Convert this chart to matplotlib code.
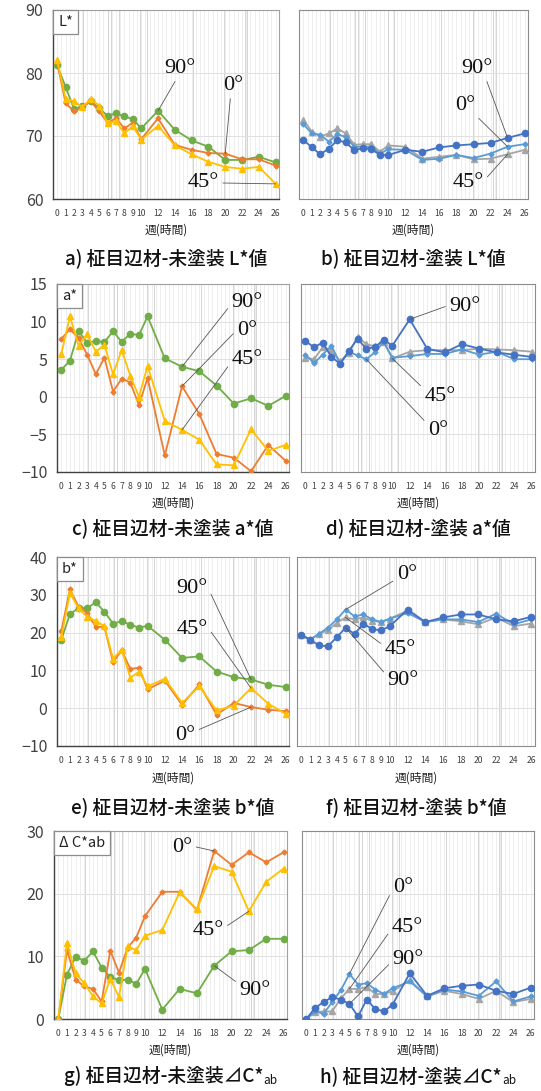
import numpy as np
import matplotlib
matplotlib.use("Agg")
import matplotlib.pyplot as plt
from matplotlib.offsetbox import AnchoredText
from matplotlib.font_manager import FontProperties, findfont

plt.rcParams['font.family'] = ['Noto Sans CJK JP', 'DejaVu Sans']

W, H = 541, 1091

weeks = [0, 1, 2, 3, 4, 5, 6, 7, 8, 9, 10, 12, 14, 16, 18, 20, 22, 24, 26]
tick_labels = [str(w) for w in weeks]

# L* values
L_raw_0 = [81.6, 75.2, 73.9, 74.6, 75.5, 73.9, 72.1, 72.8, 71.2, 72.1, 69.5, 72.8, 68.6, 67.8, 67.3, 67.2, 66.3, 66.3, 65.3]
L_raw_45 = [82.0, 75.9, 75.5, 74.6, 75.9, 74.8, 72.0, 72.4, 70.4, 71.6, 69.4, 71.6, 68.5, 67.1, 65.9, 65.1, 64.8, 65.1, 62.4]
L_raw_90 = [81.2, 77.8, 74.3, 74.7, 75.5, 74.4, 73.2, 73.6, 73.1, 72.7, 71.2, 74.0, 71.0, 69.3, 68.3, 66.2, 66.2, 66.7, 65.8]
L_coat_0 = [71.9, 70.4, 70.2, 69.1, 70.3, 69.8, 68.3, 68.3, 68.3, 67.2, 67.9, 67.8, 66.2, 66.4, 67.0, 66.5, 67.2, 68.3, 68.7]
L_coat_45 = [72.6, 70.7, 69.9, 70.4, 71.2, 70.4, 68.6, 68.7, 68.7, 67.5, 68.5, 68.3, 66.4, 66.7, 67.0, 66.3, 66.4, 67.1, 67.8]
L_coat_90 = [69.4, 68.2, 67.1, 68.0, 69.3, 69.0, 67.7, 68.1, 67.9, 67.0, 67.0, 67.8, 67.5, 68.2, 68.5, 68.7, 68.9, 69.7, 70.4]

# a* values
a_raw_0 = [7.7, 9.0, 7.8, 5.6, 3.0, 5.2, 0.7, 2.4, 1.9, -1.1, 2.5, -7.8, 1.4, -2.3, -7.6, -8.1, -9.9, -6.4, -8.5]
a_raw_45 = [5.7, 10.7, 6.8, 8.3, 6.0, 6.9, 3.0, 6.2, 2.8, 0.0, 4.1, -3.2, -4.4, -5.7, -9.0, -9.1, -4.3, -7.2, -6.4]
a_raw_90 = [3.6, 4.8, 8.7, 7.2, 7.4, 7.3, 8.7, 7.3, 8.4, 8.2, 10.7, 5.1, 4.0, 3.4, 1.5, -0.9, -0.2, -1.2, 0.1]
a_coat_0 = [5.6, 4.5, 5.6, 6.8, 4.4, 6.0, 5.5, 5.0, 5.9, 7.3, 5.2, 5.4, 5.7, 5.7, 6.3, 5.6, 6.0, 5.0, 5.0]
a_coat_45 = [5.2, 5.0, 6.6, 6.2, 4.7, 5.8, 8.0, 7.0, 6.7, 7.3, 5.1, 6.0, 6.2, 6.2, 6.2, 6.4, 6.3, 6.2, 6.0]
a_coat_90 = [7.4, 6.6, 7.2, 5.3, 4.4, 6.1, 7.7, 6.4, 6.6, 7.6, 6.8, 10.3, 6.4, 5.9, 7.0, 6.4, 5.9, 5.6, 5.3]

# b* values
b_raw_0 = [20.4, 31.5, 26.8, 25.2, 21.5, 21.5, 12.2, 15.3, 10.4, 10.7, 5.0, 7.3, 0.9, 6.3, -1.7, 1.4, 0.3, -0.4, -0.8]
b_raw_45 = [18.8, 30.5, 26.4, 24.2, 23.1, 21.7, 13.1, 15.5, 8.1, 9.6, 5.8, 7.8, 1.4, 5.8, -0.6, 0.7, 5.3, 1.2, -1.5]
b_raw_90 = [18.1, 24.9, 26.5, 26.5, 28.0, 25.5, 22.4, 23.0, 22.1, 21.3, 21.8, 18.1, 13.3, 13.7, 9.7, 8.2, 7.6, 6.2, 5.6]
b_coat_0 = [19.3, 18.2, 19.7, 21.3, 23.5, 26.1, 24.3, 24.8, 23.5, 22.8, 23.7, 25.2, 22.8, 23.5, 23.5, 22.8, 25.0, 22.2, 23.5]
b_coat_45 = [19.3, 18.1, 19.7, 20.6, 22.6, 24.0, 23.5, 24.0, 23.1, 22.8, 23.7, 25.8, 22.8, 23.5, 23.0, 22.2, 24.0, 21.7, 22.4]
b_coat_90 = [19.3, 18.1, 16.6, 16.4, 18.8, 21.3, 19.6, 22.4, 20.9, 20.6, 21.7, 26.1, 22.8, 24.0, 24.8, 24.8, 23.5, 23.0, 24.2]

# delta C*ab values
c_raw_0 = [0.0, 11.0, 6.3, 5.2, 4.8, 2.8, 10.9, 7.4, 11.4, 13.0, 16.4, 20.3, 20.3, 17.4, 26.8, 24.6, 26.6, 25.0, 26.6]
c_raw_45 = [0.0, 12.1, 7.3, 5.7, 3.6, 2.5, 6.4, 3.5, 11.6, 11.0, 13.3, 14.2, 20.2, 17.5, 24.4, 23.5, 17.2, 21.9, 24.0]
c_raw_90 = [0.0, 7.1, 9.9, 9.3, 10.8, 8.2, 6.7, 6.2, 6.3, 5.6, 8.0, 1.5, 4.8, 4.1, 8.5, 10.8, 11.0, 12.8, 12.8]
c_coat_0 = [0.0, 1.2, 0.85, 2.7, 4.6, 7.2, 5.5, 5.7, 4.7, 4.0, 4.9, 6.0, 3.6, 4.7, 4.4, 3.7, 6.0, 2.8, 3.6]
c_coat_45 = [0.0, 1.1, 1.2, 1.2, 3.3, 4.8, 4.8, 5.1, 4.0, 4.0, 4.4, 6.2, 3.6, 4.5, 4.0, 3.2, 4.5, 2.7, 3.2]
c_coat_90 = [0.0, 1.75, 2.7, 3.5, 3.1, 2.4, 0.4, 3.1, 1.6, 1.2, 2.3, 7.3, 3.7, 4.9, 5.3, 5.5, 4.5, 4.0, 5.0]

GREEN, ORANGE, YELLOW = '#70AD47', '#ED7D31', '#FFC000'
DBLUE, LBLUE, GRAY = '#4472C4', '#5B9BD5', '#A5A5A5'

light_grid = np.arange(0, 26.5, 0.5)
dark_grid = [3.1, 6.1, 6.4, 7.3, 9.9, 10.7, 16.2, 19.9, 22.3, 22.6]

# serif font for the angle labels
serif_path = findfont(FontProperties(family='Liberation Serif'))
ANGLE_FONT = FontProperties(fname=serif_path, size=16)


def make_ax(l, t, r, b):
    return fig.add_axes([l / W, 1 - b / H, (r - l) / W, (b - t) / H])


def style(ax, ylim, yticks, left_col, tag=None):
    ax.set_xlim(-0.5, 26.4)
    ax.set_ylim(*ylim)
    ax.set_yticks(yticks)
    for x in light_grid:
        ax.axvline(x, color='#ebebeb', lw=0.6, zorder=0)
    for x in dark_grid:
        ax.axvline(x, color='#cfcfcf', lw=0.6, zorder=0)
    for y in yticks:
        ax.axhline(y, color='#e0e0e0', lw=0.7, zorder=0)
    ax.set_xticks(weeks)
    ax.set_xticklabels(tick_labels, fontsize=6.2, color='#404040')
    ax.tick_params(length=0, pad=7)
    ax.tick_params(axis='y', labelsize=11.5, labelcolor='#404040', pad=7)
    if left_col:
        for s in ('top', 'right'):
            ax.spines[s].set_color('#a0a0a0')
        for s in ('left', 'bottom'):
            ax.spines[s].set_color('#404040')
            ax.spines[s].set_linewidth(1.0)
    else:
        ax.set_yticklabels([])
        for s in ax.spines.values():
            s.set_color('#8c8c8c')
    if tag:
        at = AnchoredText(tag, loc='upper left', pad=0.35, borderpad=0,
                          prop=dict(size=10.5, color='#222'))
        at.patch.set_edgecolor('#8c8c8c')
        at.patch.set_linewidth(0.9)
        ax.add_artist(at)


def raw_lines(ax, d0, d45, d90):
    ax.plot(weeks, d90, color=GREEN, marker='o', ms=4.5, lw=1.3, zorder=3)
    ax.plot(weeks, d0, color=ORANGE, marker='D', ms=2.5, lw=1.3, zorder=3)
    ax.plot(weeks, d45, color=YELLOW, marker='^', ms=4, lw=1.3, zorder=3)


def coat_lines(ax, d0, d45, d90):
    ax.plot(weeks, d45, color=GRAY, marker='^', ms=4, lw=1.3, zorder=3)
    ax.plot(weeks, d0, color=LBLUE, marker='D', ms=2.5, lw=1.3, zorder=3)
    ax.plot(weeks, d90, color=DBLUE, marker='o', ms=4.5, lw=1.3, zorder=3)


def label(ax, text, week, value, fx, fy, rel=(0.5, 0.5)):
    ax.annotate(text, xy=(week, value), xycoords='data',
                xytext=(fx, fy), textcoords='axes fraction',
                ha='center', va='center', fontproperties=ANGLE_FONT,
                color='#111',
                arrowprops=dict(arrowstyle='-', color='#555', lw=0.6,
                                relpos=rel, shrinkA=1, shrinkB=0),
                zorder=5)


def caption(ax, text, y, sub=None):
    box = ax.get_position()
    cx = (box.x0 + box.x1) / 2
    t = fig.text(cx, 1 - y / H, text, ha='center', va='center',
                 fontsize=13.5, color='#111', weight='medium')
    if sub:
        s = fig.text(0, 1 - (y + 5) / H, sub, ha='left', va='center',
                     fontsize=8.5, color='#111')
        r = fig.canvas.get_renderer()
        sw = s.get_window_extent(r).width / W
        t.set_x(cx - sw / 2)
        ext = t.get_window_extent(r)
        s.set_x(ext.x1 / W + 0.5 / W)


def xlabel(ax, y):
    box = ax.get_position()
    fig.text((box.x0 + box.x1) / 2, 1 - y / H, '週(時間)', ha='center',
             va='center', fontsize=8.5, color='#222')


fig = plt.figure(figsize=(W / 100, H / 100), dpi=100)

# row 1: L*
ax = make_ax(53, 10, 279, 199)
style(ax, (60, 90), [60, 70, 80, 90], True, 'L*')
raw_lines(ax, L_raw_0, L_raw_45, L_raw_90)
label(ax, '90°', 12, 74.0, 0.562, 0.693, (0.45, 0.1))
label(ax, '0°', 20, 67.2, 0.796, 0.603, (0.4, 0.1))
label(ax, '45°', 26, 62.4, 0.664, 0.085, (1.0, 0.5))
xlabel(ax, 230)
caption(ax, 'a) 柾目辺材-未塗装 L*値', 258)

ax = make_ax(299, 10, 528, 199)
style(ax, (60, 90), [60, 70, 80, 90], False)
coat_lines(ax, L_coat_0, L_coat_45, L_coat_90)
label(ax, '90°', 24, 69.7, 0.777, 0.693, (0.75, 0.1))
label(ax, '0°', 24, 68.3, 0.725, 0.497, (0.8, 0.2))
label(ax, '45°', 24, 67.1, 0.738, 0.085, (1.0, 0.6))
xlabel(ax, 230)
caption(ax, 'b) 柾目辺材-塗装 L*値', 258)

# row 2: a*
ax = make_ax(57, 284, 289, 472)
style(ax, (-10, 15), [-10, -5, 0, 5, 10, 15], True, 'a*')
raw_lines(ax, a_raw_0, a_raw_45, a_raw_90)
label(ax, '90°', 14, 4.0, 0.819, 0.904, (0.0, 0.4))
label(ax, '0°', 14, 1.4, 0.819, 0.755, (-0.1, 0.4))
label(ax, '45°', 14, -4.4, 0.819, 0.596, (0.0, 0.4))
xlabel(ax, 503)
caption(ax, 'c) 柾目辺材-未塗装 a*値', 528)

ax = make_ax(301, 284, 535, 472)
style(ax, (-10, 15), [-10, -5, 0, 5, 10, 15], False)
coat_lines(ax, a_coat_0, a_coat_45, a_coat_90)
label(ax, '90°', 12, 10.3, 0.701, 0.878, (0.0, 0.6))
label(ax, '45°', 10, 5.1, 0.594, 0.399, (0.0, 0.9))
label(ax, '0°', 7, 5.0, 0.585, 0.223, (0.0, 0.8))
xlabel(ax, 503)
caption(ax, 'd) 柾目辺材-塗装 a*値', 528)

# row 3: b*
ax = make_ax(57, 557, 289, 746)
style(ax, (-10, 40), [-10, 0, 10, 20, 30, 40], True, 'b*')
raw_lines(ax, b_raw_0, b_raw_45, b_raw_90)
label(ax, '90°', 22, 7.6, 0.582, 0.831, (1.0, 0.6))
label(ax, '45°', 22, 5.3, 0.582, 0.619, (1.0, 0.6))
label(ax, '0°', 22, 0.3, 0.552, 0.058, (1.0, 0.7))
xlabel(ax, 778)
caption(ax, 'e) 柾目辺材-未塗装 b*値', 807)

ax = make_ax(297, 557, 535, 746)
style(ax, (-10, 40), [-10, 0, 10, 20, 30, 40], False)
coat_lines(ax, b_coat_0, b_coat_45, b_coat_90)
label(ax, '0°', 5, 26.1, 0.462, 0.905, (0.0, 0.3))
label(ax, '45°', 5, 24.0, 0.433, 0.508, (0.0, 0.7))
label(ax, '90°', 5, 21.3, 0.445, 0.349, (0.0, 0.7))
xlabel(ax, 778)
caption(ax, 'f) 柾目辺材-塗装 b*値', 807)

# row 4: delta C*ab
ax = make_ax(54, 831, 287, 1019)
style(ax, (0, 30), [0, 10, 20, 30], True, 'Δ C*ab')
raw_lines(ax, c_raw_0, c_raw_45, c_raw_90)
label(ax, '0°', 18, 26.8, 0.549, 0.910, (1.0, 0.6))
label(ax, '45°', 22, 17.2, 0.661, 0.473, (1.0, 0.6))
label(ax, '90°', 18, 8.5, 0.863, 0.154, (0.0, 0.8))
xlabel(ax, 1050)
caption(ax, 'g) 柾目辺材-未塗装⊿C*', 1076, 'ab')

ax = make_ax(302, 831, 534, 1019)
style(ax, (0, 30), [0, 10, 20, 30], False)
coat_lines(ax, c_coat_0, c_coat_45, c_coat_90)
label(ax, '0°', 5, 7.2, 0.435, 0.702, (0.0, 0.4))
label(ax, '45°', 5, 4.8, 0.453, 0.489, (0.0, 0.4))
label(ax, '90°', 5, 2.4, 0.457, 0.319, (0.0, 0.4))
xlabel(ax, 1050)
caption(ax, 'h) 柾目辺材-塗装⊿C*', 1076, 'ab')

fig.savefig('out.png', dpi=100, facecolor='white')
